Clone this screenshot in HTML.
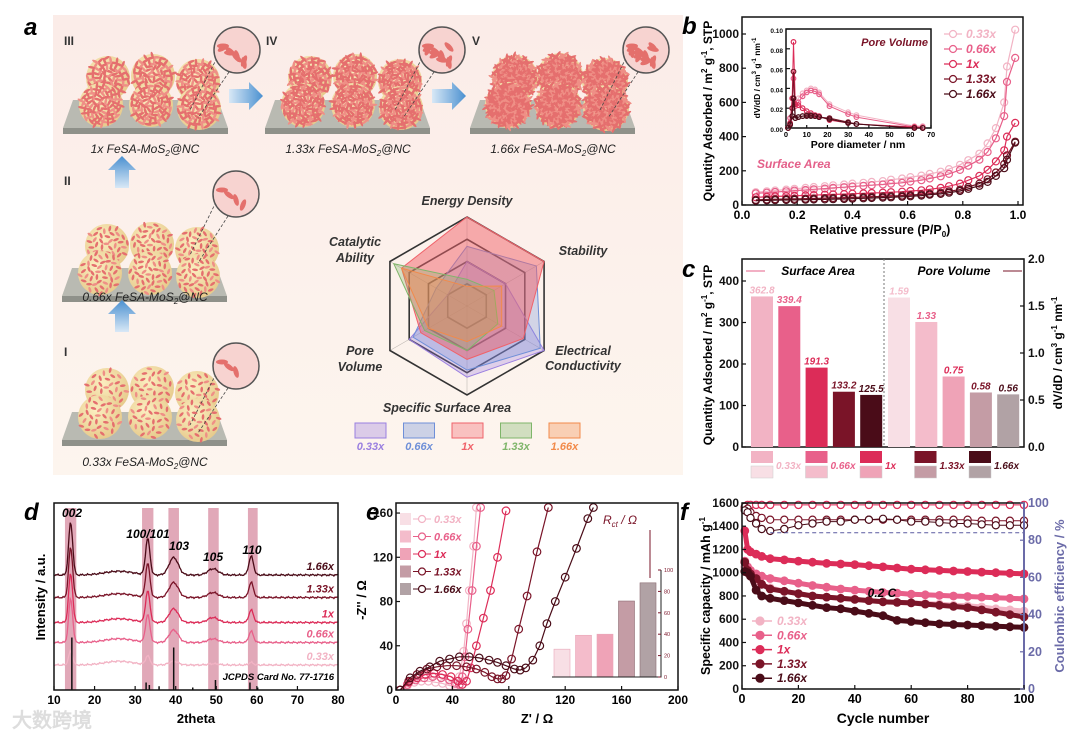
<!DOCTYPE html>
<html><head><meta charset="utf-8"><style>
html,body{margin:0;padding:0;background:#fff;}
svg{display:block;font-family:"Liberation Sans",Arial,sans-serif;}
text{font-family:"Liberation Sans",Arial,sans-serif;}
</style></head><body>
<svg id="fig" width="1073" height="731" viewBox="0 0 1073 731" xmlns="http://www.w3.org/2000/svg">
<defs>
<linearGradient id="bgA" x1="0" y1="0" x2="0" y2="1"><stop offset="0" stop-color="#fbece8"/><stop offset="1" stop-color="#fdf5ee"/></linearGradient>
<radialGradient id="sph" cx="0.4" cy="0.35" r="0.7"><stop offset="0" stop-color="#fbeec0"/><stop offset="1" stop-color="#e6c98a"/></radialGradient>
<linearGradient id="arrH" x1="0" y1="0" x2="1" y2="0"><stop offset="0" stop-color="#d8e8f6"/><stop offset="1" stop-color="#4a90d0"/></linearGradient>
<linearGradient id="arrV" x1="0" y1="1" x2="0" y2="0"><stop offset="0" stop-color="#d8e8f6"/><stop offset="1" stop-color="#4a90d0"/></linearGradient>
<clipPath id="eclip"><rect x="396" y="503" width="282" height="187"/></clipPath>
</defs>
<rect x="53" y="15" width="630" height="460" fill="url(#bgA)"/>
<g id="panelA"></g>
<g id="radar"></g>
<g id="panelB"></g>
<g id="panelC"></g>
<g id="panelD"></g>
<g id="panelE"></g>
<g id="panelF"></g>
<text x="24" y="35" font-size="24" font-weight="bold" font-style="italic">a</text>
<text x="682" y="34" font-size="24" font-weight="bold" font-style="italic">b</text>
<text x="682" y="277" font-size="24" font-weight="bold" font-style="italic">c</text>
<text x="24" y="520" font-size="24" font-weight="bold" font-style="italic">d</text>
<text x="366" y="520" font-size="24" font-weight="bold" font-style="italic">e</text>
<text x="680" y="520" font-size="24" font-weight="bold" font-style="italic">f</text>
</svg>
<script>
// ---------- shared chart data ----------
const sampleNames = ["0.33x","0.66x","1x","1.33x","1.66x"];
const colors = ["#f2b3c4","#e8608a","#dc2c58","#7a1428","#4a0c18"];
const colorsPV = ["#f8dfe5","#f4bccb","#efa3b7","#c49ca5","#b1a2a5"];
// panel b isotherm
const bP = [0.05,0.09,0.12,0.16,0.19,0.23,0.26,0.3,0.33,0.37,0.4,0.44,0.47,0.51,0.54,0.58,0.61,0.65,0.68,0.72,0.75,0.79,0.82,0.86,0.89,0.92,0.95,0.96,0.99];
const bQ033 = [75,80,85,90,95,100,105,110,115,120,125,130,135,140,148,155,163,172,182,195,210,235,262,300,360,450,600,810,1025];
const bQ066 = [68,72,76,80,84,88,92,96,100,104,108,112,116,120,125,130,137,145,155,168,182,205,230,265,310,390,520,720,860];
const bQ1 = [45,48,50,52,54,56,58,60,62,64,66,68,70,72,75,78,82,86,92,100,110,125,145,170,205,255,320,400,480];
const bQ133 = [30,32,34,35,36,37,38,40,41,42,44,46,48,50,52,55,58,62,66,72,80,90,105,125,150,190,240,290,370];
const bQ166 = [25,27,28,29,30,31,32,33,34,35,37,39,41,43,45,48,51,55,60,65,72,82,95,112,135,170,215,265,365];
const bXTicks = [0,0.2,0.4,0.6,0.8,1.0];
const bYTicks = [0,200,400,600,800,1000];
// inset pore size
const pD = [1,2,3,3.6,4.5,6,8,10,12,14,16,21,30,34,62,66];
const pV033 = [0,0.01,0.02,0.03,0.024,0.03,0.035,0.038,0.04,0.039,0.036,0.024,0.016,0.013,0.002,0.002];
const pV066 = [0,0.01,0.02,0.05,0.022,0.026,0.032,0.036,0.038,0.037,0.034,0.022,0.014,0.011,0.001,0.001];
const pV1 = [0,0.005,0.03,0.087,0.024,0.023,0.02,0.017,0.015,0.013,0.012,0.008,0.005,0.004,0.001,0];
const pV133 = [0,0.004,0.02,0.057,0.01,0.011,0.012,0.013,0.013,0.012,0.011,0.01,0.006,0.004,0,0];
const pV166 = [0,0.003,0.012,0.03,0.01,0.011,0.012,0.012,0.012,0.012,0.011,0.009,0.005,0.004,0,0];
// panel c
const surfaceArea = [362.8,339.4,191.3,133.2,125.5];
const poreVolume = [1.59,1.33,0.75,0.58,0.56];
const saLabels = ["362.8","339.4","191.3","133.2","125.5"];
const pvLabels = ["1.59","1.33","0.75","0.58","0.56"];
// panel d XRD
const xrdPeaks = [14.1,33.1,39.5,49.2,58.6];
const xrdWidths = [0.7,0.75,1.6,1.8,0.8];
const xrdOffsets = [1.0,1.9,2.7,3.7,4.6];
const xrdH033 = [0.55,0.35,0.15,0.05,0.1];
const xrdH066 = [1.75,1.1,0.5,0.15,0.45];
const xrdH1 = [1.95,1.25,0.55,0.2,0.5];
const xrdH133 = [2.0,1.35,0.6,0.2,0.6];
const xrdH166 = [2.1,1.45,0.7,0.25,0.75];
const jcpdsPos = [14.4,32.7,33.5,35.9,39.5,44.2,49.8,58.3,60.2];
const jcpdsH = [2.1,0.3,0.2,0.15,1.7,0.1,0.4,0.3,0.1];
// panel e Nyquist
const eZr033 = [3,8,13,18,23,28,33,38,42,45,48,50,52,55,57];
const eZi033 = [0,4,7,8,8,7,6,4,4,12,35,60,90,130,165];
const eZr066 = [3,8,14,20,26,32,38,42,45,47,49,51,54,57,60];
const eZi066 = [0,5,9,11,12,11,9,6,5,12,30,55,90,130,165];
const eZr1 = [3,9,15,21,27,33,39,44,47,50,53,57,62,67,72,78];
const eZi1 = [0,7,11,14,15,14,12,8,5,8,20,40,65,90,120,162];
const eZr133 = [3,9,15,22,29,36,43,50,57,63,68,72,75,78,82,87,93,100,108];
const eZi133 = [0,8,14,19,21,22,22,21,19,16,12,10,10,13,28,55,85,125,165];
const eZr166 = [3,10,17,24,31,38,45,52,59,66,72,78,84,88,92,97,102,107,113,120,128,136,140];
const eZi166 = [0,11,17,21,26,28,30,30,29,27,25,22,19,18,20,27,40,60,80,102,128,155,165];
const rctVals = [26,39,40,71,88];
const eXTicks = [0,40,80,120,160,200];
const eYTicks = [0,40,80,120,160];
// panel f
const fCycles = [1,2,3,5,7,10,15,20,25,30,35,40,45,50,55,60,65,70,75,80,85,90,95,100];
const fC033 = [1050,1000,970,930,900,870,840,820,800,790,780,770,760,750,745,740,735,730,720,715,705,690,680,670];
const fC066 = [1100,1050,1020,990,970,950,930,910,890,875,860,850,840,830,825,815,810,805,800,795,790,785,780,775];
const fC1 = [1360,1200,1180,1160,1140,1120,1110,1100,1090,1080,1075,1070,1060,1050,1040,1030,1025,1020,1015,1010,1005,1000,995,990];
const fC133 = [1090,1020,990,950,900,860,840,820,800,790,780,770,760,750,745,740,730,720,710,700,680,660,640,620];
const fC166 = [1010,1000,970,850,800,780,760,740,720,700,690,670,650,630,590,580,570,560,555,550,545,540,535,530];
const fCE1 = [97,99,99,99,99,99,99,99,99,99,99,99,99,99,99,99,99,99,99,99,99,99,99,99];
const fCE133 = [98,97,95,93,92,91,91,91,91,91,91,91,91,91,91,91,91,91,91,91,90.5,90.5,90.5,90.5];
const fCE166 = [96,95,92,89,86,85,86,88,89,90,90,91,91,91.5,91,90,90,89.5,89,89,88.5,88,88,88];

const NS="http://www.w3.org/2000/svg";
function mk(parent, tag, attrs){const e=document.createElementNS(NS,tag);for(const k in attrs)e.setAttribute(k,attrs[k]);parent.appendChild(e);return e;}
function tx(parent,x,y,s,size,opts){const e=mk(parent,'text',Object.assign({x:x,y:y,'font-size':size,'font-weight':'bold'},opts||{}));e.textContent=s;return e;}

// ---------- panel a illustration ----------
const A=document.getElementById('panelA');
function platform(x0,y0,w){
  const g=mk(A,'g',{});
  
  
  const p=mk(g,'polygon',{points:`${x0+10},${y0-28} ${x0+w-10},${y0-28} ${x0+w},${y0} ${x0},${y0}`,fill:'#b9bab2'});
  
  
  const f=mk(g,'rect',{x:x0,y:y0,width:w,height:6,fill:'#8f918a'});
  
  
}
function sphere(cx,cy,r,density){
  const g=mk(A,'g',{});
  
  
  const c=mk(g,'circle',{cx:cx,cy:cy,r:r,fill:'url(#sph)'});
  
  
  const n=Math.round(density*r*1.2);
  for(let i=0;i<n;i++){
    const a=i*2.399+cx*0.1, rr=r*Math.sqrt((i+0.5)/n)*0.95;
    const x=cx+Math.cos(a)*rr, y=cy+Math.sin(a)*rr;
    const s=mk(g,'ellipse',{cx:x.toFixed(1),cy:y.toFixed(1),rx:(2.4+density*0.4).toFixed(1),ry:1.3,fill:i%3?'#e56f6e':'#ef8f86',transform:`rotate(${(i*47)%180} ${x.toFixed(1)} ${y.toFixed(1)})`});
    
    
  }
}
function cluster(ox,oy,r,d){
  platform(ox,oy+0,165);
  const back=[[35,-58],[80,-60],[125,-55]], front=[[30,-25],[80,-25],[128,-22]];
  back.forEach(p=>sphere(ox+p[0]+10,oy+p[1]+8,r,d));
  front.forEach(p=>sphere(ox+p[0]+8,oy+p[1]+2,r,d));
}
cluster(62,440,22,1.2); cluster(62,296,22,1.6); cluster(63,128,22,3.2); cluster(265,128,22,4.5); cluster(470,128,23,7);
function magnifier(cx,cy,lx,ly,d){
  const g=mk(A,'g',{});
  
  
  const l1=mk(g,'line',{x1:cx-20,y1:cy+8,x2:lx,y2:ly,stroke:'#444','stroke-dasharray':'3,2','stroke-width':0.8});
  
  
  const l2=mk(g,'line',{x1:cx-8,y1:cy+22,x2:lx+8,y2:ly+8,stroke:'#444','stroke-dasharray':'3,2','stroke-width':0.8});
  
  
  const c=mk(g,'circle',{cx:cx,cy:cy,r:23,fill:'#f7d3d0',stroke:'#555','stroke-width':1.5});
  
  
  for(let i=0;i<d;i++){
    const x=cx-14+(i*7)%28, y=cy-4+((i*5)%18);
    const e=mk(g,'ellipse',{cx:x,cy:y,rx:6,ry:2.5,fill:'#e4706c',transform:`rotate(${(i*37)%180} ${x} ${y})`});
    
    
  }
}
magnifier(237,50,190,110,8); magnifier(442,50,395,110,12); magnifier(646,50,600,110,16); magnifier(236,194,190,255,4); magnifier(236,366,190,425,3);
function arrowH(x,y){const p=mk(A,'polygon',{points:`${x},${y-7} ${x+20},${y-7} ${x+20},${y-14} ${x+34},${y} ${x+20},${y+14} ${x+20},${y+7} ${x},${y+7}`,fill:'url(#arrH)'});
  
  }
function arrowV(x,y){const p=mk(A,'polygon',{points:`${x-7},${y} ${x-7},${y-18} ${x-14},${y-18} ${x},${y-32} ${x+14},${y-18} ${x+7},${y-18} ${x+7},${y}`,fill:'url(#arrV)'});
  
  }
arrowH(229,96); arrowH(432,96); arrowV(122,188); arrowV(122,332);
const stageTexts=[["III",64,45],["IV",266,45],["V",472,45],["II",64,185],["I",64,356]];
stageTexts.forEach(s=>{const t=tx(A,s[1],s[2],s[0],12,{fill:'#333'});
  
  });
const capts=[["1x FeSA-MoS","2","@NC",145,153],["1.33x FeSA-MoS","2","@NC",348,153],["1.66x FeSA-MoS","2","@NC",553,153],["0.66x FeSA-MoS","2","@NC",145,301],["0.33x FeSA-MoS","2","@NC",145,466]];
capts.forEach(c=>{const t=mk(A,'text',{x:c[3],y:c[4],'font-size':12,'font-style':'italic','text-anchor':'middle',fill:'#222'});
  
  
  t.innerHTML=`${c[0]}<tspan font-size="8" dy="3">${c[1]}</tspan><tspan dy="-3">${c[2]}</tspan>`;});

// ---------- radar ----------
const R=document.getElementById('radar');
const radarAxes=["Energy Density","Stability","Electrical Conductivity","Specific Surface Area","Pore Volume","Catalytic Ability"];
const radar033=[0.5,0.5,1.0,0.8,0.75,0.25];
const radar066=[0.67,0.9,0.95,0.72,0.7,0.4];
const radar1=[1.0,1.0,0.73,0.6,0.6,0.85];
const radar133=[0.3,0.35,0.4,0.5,0.55,0.95];
const radar166=[0.22,0.45,0.45,0.4,0.5,0.85];
const rcx=467, rcy=306, rR=89;
function rpt(i,v){const a=(-90+60*i)*Math.PI/180;return [rcx+Math.cos(a)*rR*v, rcy+Math.sin(a)*rR*v];}
[1,0.75,0.5,0.25].forEach(f=>{const pts=[0,1,2,3,4,5].map(i=>rpt(i,f).join(',')).join(' ');
  const p=mk(R,'polygon',{points:pts,fill:'none',stroke:'#333','stroke-width':1.6});
  
  });
for(let i=0;i<6;i++){const q=rpt(i,1);const l=mk(R,'line',{x1:rcx,y1:rcy,x2:q[0],y2:q[1],stroke:'#333','stroke-width':0.6,opacity:0.3});
  
  }
const radarSeries=[[radar033,'#9a7fe0'],[radar066,'#6f8fd8'],[radar1,'#f0626a'],[radar133,'#7fb56a'],[radar166,'#f28a4a']];
radarSeries.forEach((s,k)=>{const pts=s[0].map((v,i)=>rpt(i,v).join(',')).join(' ');
  const p=mk(R,'polygon',{points:pts,fill:s[1],'fill-opacity':k==2?0.5:0.3,stroke:s[1],'stroke-width':1});
  
  });
const rl=[["Energy Density",467,205,'middle'],["Stability",583,255,'middle'],["Electrical",583,355,'middle'],["Conductivity",583,370,'middle'],["Specific Surface Area",447,412,'middle'],["Pore",360,355,'middle'],["Volume",360,371,'middle'],["Catalytic",355,246,'middle'],["Ability",355,262,'middle']];
rl.forEach(r=>{const t=tx(R,r[1],r[2],r[0],12.5,{'font-style':'italic','text-anchor':r[3],fill:'#333'});
  
  });
radarSeries.forEach((s,k)=>{const x=355+k*48.5;
  const b=mk(R,'rect',{x:x,y:423,width:31,height:15,fill:s[1],'fill-opacity':0.35,stroke:s[1]});
  
  
  const t=tx(R,x+15.5,450,sampleNames[k],11,{'font-style':'italic','text-anchor':'middle',fill:s[1]});
  
  });

// ---------- generic helpers ----------
function frame(g,x0,y0,x1,y1){const r=mk(g,'rect',{x:x0,y:y0,width:x1-x0,height:y1-y0,fill:'none',stroke:'#111','stroke-width':1.5});
  
  }
function circ(g,x,y,r,stroke,fill,name){const c=mk(g,'circle',{cx:x.toFixed(1),cy:y.toFixed(1),r:r,fill:fill,stroke:stroke,'stroke-width':1.2});
  
  return c;}
function poly(g,pts,stroke,w,name){const p=mk(g,'polyline',{points:pts.map(p=>p[0].toFixed(1)+','+p[1].toFixed(1)).join(' '),fill:'none',stroke:stroke,'stroke-width':w});
  
  return p;}
function xtick(g,x,y,label,size,len,off){const l=mk(g,'line',{x1:x,y1:y,x2:x,y2:y-(len||4),stroke:'#111','stroke-width':1.2});
  
  
  if(label!==null){const t=tx(g,x,y+(off||14),label,size||12,{'text-anchor':'middle'});
  
  }}
function ytick(g,x,y,label,size,right,col){const l=mk(g,'line',{x1:x,y1:y,x2:right?x-4:x+4,y2:y,stroke:col||'#111','stroke-width':1.2});
  
  
  if(label!==null){const t=tx(g,right?x+4:x-3,y+4,label,size||12,{'text-anchor':right?'start':'end',fill:col||'#111'});
  
  }}

// ---------- panel b ----------
const B=document.getElementById('panelB');
const bx=v=>742+v*276, by=v=>205-v*0.171;
frame(B,742,17,1023,205);
bXTicks.forEach(v=>xtick(B,bx(v),205,v.toFixed(1)));
bYTicks.forEach(v=>ytick(B,742,by(v),String(v)));
const bSeries=[bQ033,bQ066,bQ1,bQ133,bQ166];
bSeries.forEach((s,k)=>{poly(B,bP.map((p,i)=>[bx(p),by(s[i])]),colors[k],1.2,'isotherm-line-'+sampleNames[k]);
  bP.forEach((p,i)=>circ(B,bx(p),by(s[i]),3.5,colors[k],'none','isotherm-point'));});
let t;
t=tx(B,880,234,"Relative pressure (P/P",12.5,{'text-anchor':'middle'});
t.innerHTML='Relative pressure (P/P<tspan font-size="8" dy="3">0</tspan><tspan dy="-3">)</tspan>';


t=tx(B,0,0,"",12,{'text-anchor':'middle',transform:'translate(712,111) rotate(-90)'});
t.innerHTML='Quantity Adsorbed / m<tspan font-size="8" dy="-5">2</tspan><tspan dy="5"> g</tspan><tspan font-size="8" dy="-5">-1</tspan><tspan dy="5">, STP</tspan>';


t=tx(B,757,168,"Surface Area",12,{'font-style':'italic',fill:'#e4608a'});


sampleNames.forEach((n,k)=>{const y=34+k*15;
  const l=mk(B,'line',{x1:944,y1:y,x2:962,y2:y,stroke:colors[k],'stroke-width':1.2});
  
  
  circ(B,953,y,3.5,colors[k],'#fff','legend-marker');
  const tt=tx(B,966,y+4,n,12,{'font-style':'italic',fill:colors[k]});
  
  });
// inset
const ix=v=>786+v*(145/70), iy=v=>128-v*990;
const ibg=mk(B,'rect',{x:786,y:29,width:145,height:99,fill:'#fff'});


frame(B,786,29,931,128);
[0,10,20,30,40,50,60,70].forEach(v=>{xtick(B,ix(v),128,String(v),7.5,3,9);});
[0,0.02,0.04,0.06,0.08,0.1].forEach(v=>ytick(B,786,iy(v),v.toFixed(2),6.5));
const pSeries=[pV033,pV066,pV1,pV133,pV166];
pSeries.forEach((s,k)=>{poly(B,pD.map((d,i)=>[ix(d),iy(s[i])]),colors[k],1,'pore-size-line-'+sampleNames[k]);
  pD.forEach((d,i)=>circ(B,ix(d),iy(s[i]),2.3,colors[k],'none','pore-size-point'));});
t=tx(B,858,148,"Pore diameter / nm",10.5,{'text-anchor':'middle'});


t=tx(B,0,0,"",8.5,{'text-anchor':'middle',transform:'translate(760,78) rotate(-90)'});
t.innerHTML='dV/dD / cm<tspan font-size="6" dy="-4">3</tspan><tspan dy="4"> g</tspan><tspan font-size="6" dy="-4">-1</tspan><tspan dy="4"> nm</tspan><tspan font-size="6" dy="-4">-1</tspan>';


t=tx(B,928,46,"Pore Volume",11,{'font-style':'italic','text-anchor':'end',fill:'#7a1428'});



// ---------- panel c ----------
const C=document.getElementById('panelC');
const cyL=v=>447-v*0.415, cyR=v=>447-v*94;
frame(C,742,259,1024,447);
[0,100,200,300,400].forEach(v=>ytick(C,742,cyL(v),String(v)));
[0,0.5,1.0,1.5,2.0].forEach(v=>ytick(C,1024,cyR(v),v.toFixed(1),12,true));
const dl=mk(C,'line',{x1:884,y1:259,x2:884,y2:447,stroke:'#777','stroke-dasharray':'2,2'});


surfaceArea.forEach((v,k)=>{const x=751+k*27.3;
  const r=mk(C,'rect',{x:x,y:cyL(v),width:22,height:447-cyL(v),fill:colors[k]});
  
  
  const tt=tx(C,x+11,cyL(v)-3,saLabels[k],10,{'font-style':'italic','text-anchor':'middle',fill:colors[k]});
  
  });
poreVolume.forEach((v,k)=>{const x=888+k*27.3;
  const r=mk(C,'rect',{x:x,y:cyR(v),width:22,height:447-cyR(v),fill:colorsPV[k]});
  
  
  const tt=tx(C,x+11,cyR(v)-3,pvLabels[k],10,{'font-style':'italic','text-anchor':'middle',fill:k<1?colorsPV[1]:colors[k]});
  
  });
t=tx(C,818,275,"Surface Area",12,{'font-style':'italic','text-anchor':'middle'});


t=tx(C,954,275,"Pore Volume",12,{'font-style':'italic','text-anchor':'middle'});


[[746,765,'#e4608a'],[1003,1022,'#7a1428']].forEach(a=>{const l=mk(C,'line',{x1:a[0],y1:271,x2:a[1],y2:271,stroke:a[2],'stroke-width':1});
  
  });
sampleNames.forEach((n,k)=>{const x=751+k*54.5;
  const a=mk(C,'rect',{x:x,y:451,width:22,height:12,fill:colors[k]});
  
  
  const b=mk(C,'rect',{x:x,y:466,width:22,height:12,fill:colorsPV[k],stroke:'#ccc','stroke-width':0.5});
  
  
  const tt=tx(C,x+25,469,n,10,{'font-style':'italic',fill:colors[k]});
  
  });
t=tx(C,0,0,"",12,{'text-anchor':'middle',transform:'translate(712,355) rotate(-90)'});
t.innerHTML='Quantity Adsorbed / m<tspan font-size="8" dy="-5">2</tspan><tspan dy="5"> g</tspan><tspan font-size="8" dy="-5">-1</tspan><tspan dy="5">, STP</tspan>';


t=tx(C,0,0,"",12,{'text-anchor':'middle',transform:'translate(1062,353) rotate(-90)'});
t.innerHTML='dV/dD / cm<tspan font-size="8" dy="-5">3</tspan><tspan dy="5"> g</tspan><tspan font-size="8" dy="-5">-1</tspan><tspan dy="5"> nm</tspan><tspan font-size="8" dy="-5">-1</tspan>';



// ---------- panel d ----------
const D=document.getElementById('panelD');
const dx=v=>54+(v-10)*(284/70), dy=v=>690-v*25;
[[12.7,15.5],[31.7,34.5],[38.2,40.8],[48,50.6],[57.8,60.2]].forEach(b=>{
  const r=mk(D,'rect',{x:dx(b[0]),y:508,width:dx(b[1])-dx(b[0]),height:182,fill:'#c9607e','fill-opacity':0.55});
  
  });
const xrdSeries=[xrdH033,xrdH066,xrdH1,xrdH133,xrdH166];
xrdSeries.forEach((h,k)=>{const pts=[];
  for(let th=10;th<=80;th+=0.25){let v=xrdOffsets[k]+0.15*Math.exp(-Math.pow((th-26)/5,2));
    xrdPeaks.forEach((p,j)=>{v+=h[j]*Math.exp(-Math.pow((th-p)/xrdWidths[j],2));});
    v+=0.04*Math.sin(th*7.3)*Math.cos(th*3.1);
    pts.push([dx(th),dy(v)]);}
  poly(D,pts,colors[k],1.3,'xrd-pattern-'+sampleNames[k]);
  const tt=tx(D,334,dy(xrdOffsets[k])-5,sampleNames[k],11,{'font-style':'italic','text-anchor':'end',fill:colors[k]});
  
  });
jcpdsPos.forEach((p,j)=>{const l=mk(D,'line',{x1:dx(p),y1:690,x2:dx(p),y2:690-jcpdsH[j]*25,stroke:'#111','stroke-width':1.5});
  
  });
frame(D,54,503,338,690);
[10,20,30,40,50,60,70,80].forEach(v=>xtick(D,dx(v),690,String(v)));
t=tx(D,334,680,"JCPDS Card No. 77-1716",9.5,{'font-style':'italic','text-anchor':'end'});


[["002",72,517],["100/101",148,538],["103",179,550],["105",213,561],["110",252,554]].forEach(p=>{
  const tt=tx(D,p[1],p[2],p[0],12,{'font-style':'italic','text-anchor':'middle'});
  
  });
t=tx(D,196,723,"2theta",13,{'text-anchor':'middle'});


t=tx(D,0,0,"Intensity / a.u.",13,{'text-anchor':'middle',transform:'translate(45,597) rotate(-90)'});


t=tx(D,12,727,"大数跨境",20,{fill:'#ddd','font-family':'"Liberation Sans","Noto Sans CJK SC",sans-serif'});



// ---------- panel e ----------
const E=document.getElementById('panelE');
const ex=v=>396+v*1.41, ey=v=>690-v*1.106;
const eSeries=[[eZr033,eZi033],[eZr066,eZi066],[eZr1,eZi1],[eZr133,eZi133],[eZr166,eZi166]];
const rx0=554, ry=v=>677-v*1.07;
rctVals.forEach((v,k)=>{const r=mk(E,'rect',{x:rx0+k*21.5,y:ry(v),width:16,height:677-ry(v),fill:colorsPV[k],stroke:k>2?'#8c6b72':'#e9a7b8','stroke-width':0.6});
  
  });
let il=mk(E,'polyline',{points:`552,677 661,677 661,570`,fill:'none',stroke:'#222','stroke-width':1});


[0,20,40,60,80,100].forEach(v=>{const l=mk(E,'line',{x1:661,y1:ry(v),x2:658,y2:ry(v),stroke:'#7a1428'});
  
  
  const tt=tx(E,664,ry(v)+2,String(v),5.5,{fill:'#7a1428','font-weight':'normal'});
  
  });
t=tx(E,620,524,"",12,{'font-style':'italic',fill:'#7a1428','text-anchor':'middle','font-weight':'normal'});
t.innerHTML='R<tspan font-size="8" dy="3">ct</tspan><tspan dy="-3"> / Ω</tspan>';


let ar=mk(E,'line',{x1:650,y1:530,x2:650,y2:578,stroke:'#7a1428','stroke-width':1});


const EC=mk(E,'g',{'clip-path':'url(#eclip)'});


eSeries.forEach((s,k)=>{const pts=s[0].map((x,i)=>[ex(x),ey(s[1][i])]);
  poly(EC,pts,colors[k],1.2,'nyquist-line-'+sampleNames[k]);
  s[0].forEach((x,i)=>circ(EC,ex(x),ey(s[1][i]),3.8,colors[k],'none','nyquist-point'));});
frame(E,396,503,678,690);
eXTicks.forEach(v=>xtick(E,ex(v),690,String(v)));
eYTicks.forEach(v=>ytick(E,396,ey(v),String(v)));
sampleNames.forEach((n,k)=>{const y=519+k*17.5;
  const r=mk(E,'rect',{x:400,y:y-6,width:11,height:12,fill:colorsPV[k]});
  
  
  const l=mk(E,'line',{x1:413,y1:y,x2:431,y2:y,stroke:colors[k]});
  
  
  circ(E,422,y,3.5,colors[k],'#fff','legend-marker');
  const tt=tx(E,434,y+4,n,11,{'font-style':'italic',fill:colors[k]});
  
  });
t=tx(E,537,723,"Z' / Ω",13,{'text-anchor':'middle'});


t=tx(E,0,0,"-Z'' / Ω",13,{'text-anchor':'middle',transform:'translate(366,600) rotate(-90)'});



// ---------- panel f ----------
const F=document.getElementById('panelF');
const fx=v=>742+v*2.82, fy=v=>689-v*0.1163, fyR=v=>689-v*1.86;
const fSeries=[fC033,fC066,fC1,fC133,fC166];
const ceSeries=[[fCE1,colors[0]],[fCE1,colors[2]],[fCE133,colors[3]],[fCE166,colors[4]]];
ceSeries.forEach((s,k)=>{poly(F,fCycles.map((c,i)=>[fx(c),fyR(s[0][i])]),s[1],1,'ce-line');
  fCycles.forEach((c,i)=>circ(F,fx(c),fyR(s[0][i]),3.6,s[1],'#fff','ce-point'));});
let dash=mk(F,'line',{x1:fx(10),y1:fyR(84),x2:1024,y2:fyR(84),stroke:'#5a5aa0','stroke-dasharray':'4,3','stroke-width':1});


fSeries.forEach((s,k)=>{poly(F,fCycles.map((c,i)=>[fx(c),fy(s[i])]),colors[k],5,'capacity-line-'+sampleNames[k]);
  fCycles.forEach((c,i)=>circ(F,fx(c),fy(s[i]),3.8,colors[k],colors[k],'capacity-point'));});
const fr=mk(F,'rect',{x:742,y:503,width:282,height:186,fill:'none',stroke:'#111','stroke-width':1.5});


const rax=mk(F,'line',{x1:1024,y1:503,x2:1024,y2:689,stroke:'#6b6ba8','stroke-width':2});


[0,20,40,60,80,100].forEach(v=>xtick(F,fx(v),689,String(v),12.5));
[0,200,400,600,800,1000,1200,1400,1600].forEach(v=>ytick(F,742,fy(v),String(v),12));
[0,20,40,60,80,100].forEach(v=>ytick(F,1024,fyR(v),String(v),12.5,true,'#6b6ba8'));
t=tx(F,882,597,"0.2 C",12,{'font-style':'italic','text-anchor':'middle'});


sampleNames.forEach((n,k)=>{const y=621+k*14.3;
  const l=mk(F,'line',{x1:752,y1:y,x2:772,y2:y,stroke:colors[k],'stroke-width':1.5});
  
  
  circ(F,760,y,4,colors[k],colors[k],'legend-marker');
  const tt=tx(F,777,y+4,n,12,{'font-style':'italic',fill:colors[k]});
  
  });
t=tx(F,883,723,"Cycle number",14,{'text-anchor':'middle'});


t=tx(F,0,0,"",12.5,{'text-anchor':'middle',transform:'translate(710,596) rotate(-90)'});
t.innerHTML='Specific capacity / mAh g<tspan font-size="8" dy="-5">-1</tspan>';


t=tx(F,0,0,"Coulombic efficiency / %",13,{'text-anchor':'middle',transform:'translate(1064,596) rotate(-90)',fill:'#6b6ba8'});


</script>
</body></html>
